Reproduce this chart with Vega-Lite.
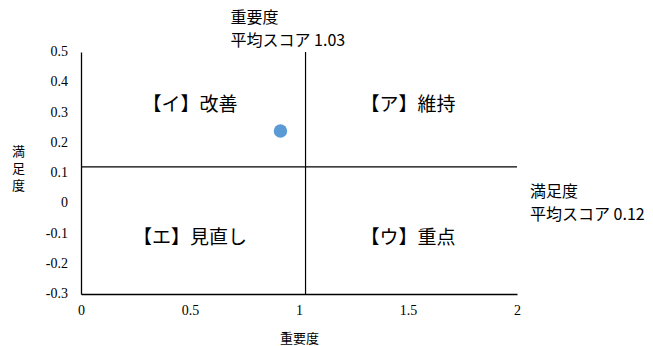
{
  "$schema": "https://vega.github.io/schema/vega-lite/v6.json",
  "width": 436,
  "height": 242,
  "autosize": {"type": "none"},
  "padding": {"left": 81, "top": 52, "right": 136, "bottom": 52},
  "background": "white",
  "config": {
    "view": {"stroke": null},
    "axis": {"grid": false, "ticks": false, "tickSize": 0, "domainColor": "black", "domainWidth": 1.3,
      "labelFont": "Liberation Serif", "labelFontSize": 14, "labelColor": "black", "labelFlush": false, "labelOverlap": false,
      "titleFont": "Noto Sans CJK JP", "titleFontSize": 13, "titleFontWeight": "normal", "titleColor": "black"}
  },
  "datasets": {
    "point": [{"重要度": 0.915, "満足度": 0.239}],
    "means": [{"重要度平均": 1.03, "満足度平均": 0.12, "xlabel": "重要度\n平均スコア 1.03", "ylabel": "満足度\n平均スコア 0.12", "xmax": 2, "ymax": 0.5, "xmin": 0}],
    "yticks": [
      {"tick": -0.3, "text": "-0.3"}, {"tick": -0.2, "text": "-0.2"}, {"tick": -0.1, "text": "-0.1"},
      {"tick": 0, "text": "0"}, {"tick": 0.1, "text": "0.1"}, {"tick": 0.2, "text": "0.2"},
      {"tick": 0.3, "text": "0.3"}, {"tick": 0.4, "text": "0.4"}, {"tick": 0.5, "text": "0.5"}
    ],
    "quadrants": [
      {"label": "【イ】改善", "qx": 0.5, "qy": 0.325},
      {"label": "【ア】維持", "qx": 1.5, "qy": 0.325},
      {"label": "【エ】見直し", "qx": 0.5, "qy": -0.115},
      {"label": "【ウ】重点", "qx": 1.5, "qy": -0.115}
    ]
  },
  "layer": [
    {
      "data": {"name": "point"},
      "mark": {"type": "point", "filled": true, "opacity": 1, "size": 180, "color": "#5B9BD5"},
      "encoding": {
        "x": {"field": "重要度", "type": "quantitative",
          "scale": {"domain": [0, 2], "nice": false, "zero": false},
          "axis": {"title": "重要度", "values": [0, 0.5, 1, 1.5, 2], "labelPadding": 9, "format": "~g",
            "labelOverlap": false, "titleY": 44, "titleBaseline": "middle"}},
        "y": {"field": "満足度", "type": "quantitative",
          "scale": {"domain": [-0.3, 0.5], "nice": false, "zero": false},
          "axis": {"title": ["満", "足", "度"], "labels": false,
            "titleAngle": 0, "titleAlign": "center", "titleBaseline": "middle", "titleLineHeight": 17,
            "titleX": -63, "titleY": 99}}
      }
    },
    {
      "data": {"name": "yticks"},
      "mark": {"type": "text", "font": "Liberation Serif", "fontSize": 14, "color": "black", "align": "right", "baseline": "middle", "dx": -13, "clip": false},
      "encoding": {
        "x": {"datum": 0, "type": "quantitative"},
        "y": {"field": "tick", "type": "quantitative"},
        "text": {"field": "text"}
      }
    },
    {
      "data": {"name": "means"},
      "mark": {"type": "rule", "color": "black", "strokeWidth": 1.2},
      "encoding": {"x": {"field": "重要度平均", "type": "quantitative"}}
    },
    {
      "data": {"name": "means"},
      "mark": {"type": "rule", "color": "black", "strokeWidth": 1.2},
      "encoding": {"y": {"field": "満足度平均", "type": "quantitative"}}
    },
    {
      "data": {"name": "quadrants"},
      "mark": {"type": "text", "font": "Noto Sans CJK JP", "fontSize": 19, "color": "black", "align": "center", "baseline": "middle"},
      "encoding": {
        "x": {"field": "qx", "type": "quantitative"},
        "y": {"field": "qy", "type": "quantitative"},
        "text": {"field": "label"}
      }
    },
    {
      "data": {"name": "means"},
      "mark": {"type": "text", "font": "Noto Sans CJK JP", "fontSize": 16, "color": "black", "align": "left", "baseline": "bottom", "lineBreak": "\n", "lineHeight": 23, "dx": -75, "dy": -26, "clip": false},
      "encoding": {
        "x": {"field": "重要度平均", "type": "quantitative"},
        "y": {"field": "ymax", "type": "quantitative"},
        "text": {"field": "xlabel"}
      }
    },
    {
      "data": {"name": "means"},
      "mark": {"type": "text", "font": "Noto Sans CJK JP", "fontSize": 16, "color": "black", "align": "left", "baseline": "top", "lineBreak": "\n", "lineHeight": 23, "dx": 13, "dy": 17, "clip": false},
      "encoding": {
        "x": {"field": "xmax", "type": "quantitative"},
        "y": {"field": "満足度平均", "type": "quantitative"},
        "text": {"field": "ylabel"}
      }
    }
  ]
}
